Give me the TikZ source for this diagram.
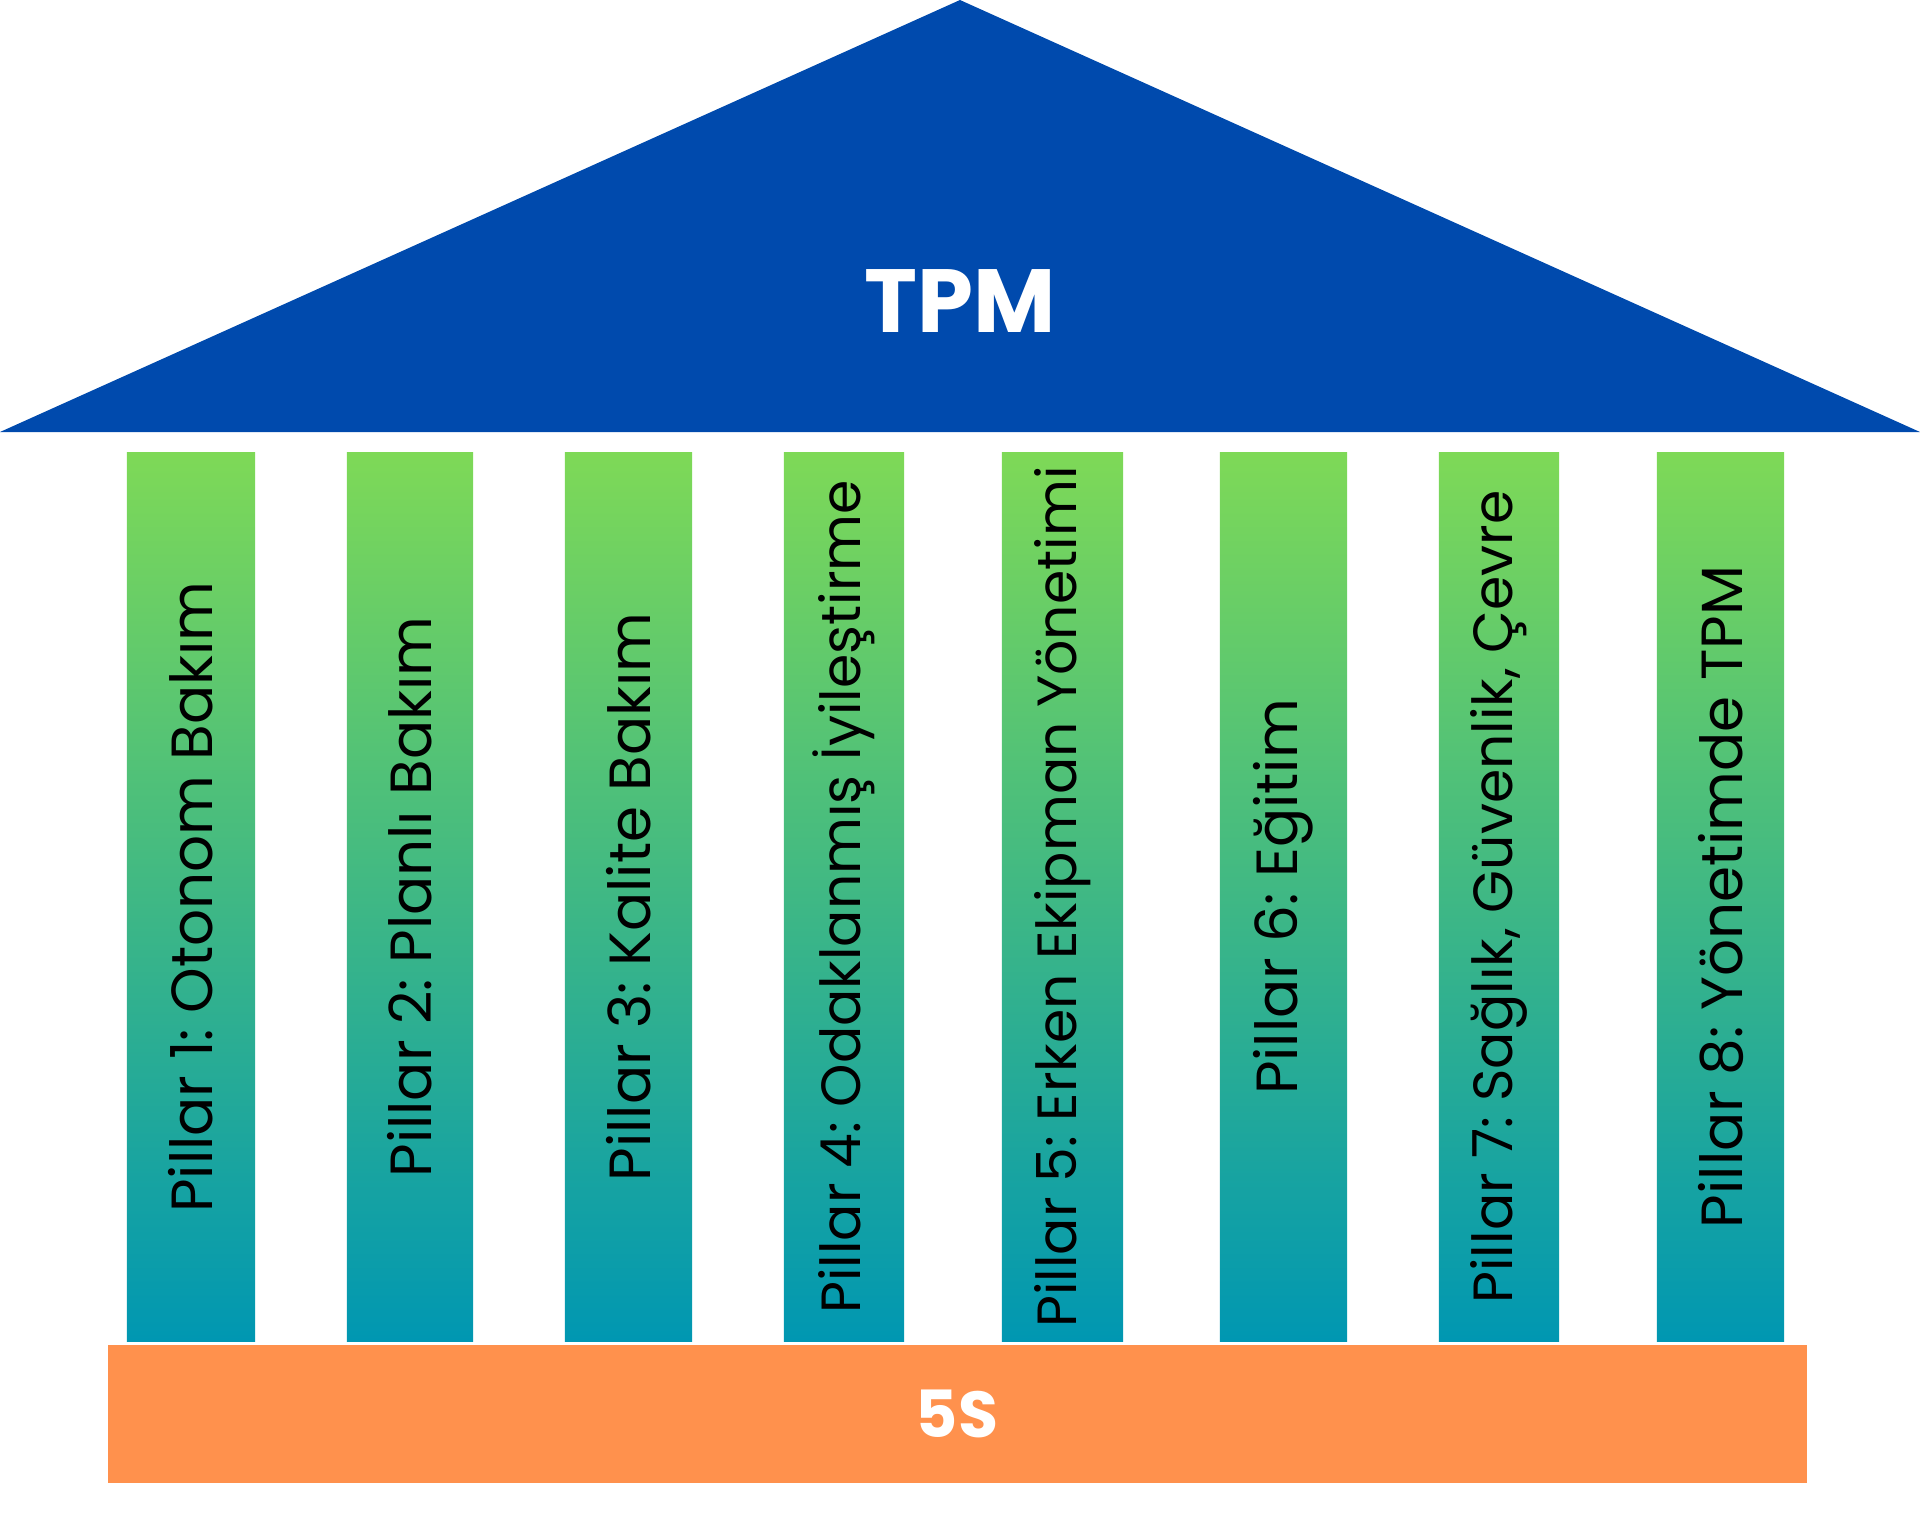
\documentclass[tikz,border=0pt]{standalone}
\usepackage{fontspec}
\setmainfont{Poppins}
\usetikzlibrary{positioning}

\definecolor{roofblue}{HTML}{004AAD}
\definecolor{pilgreen}{HTML}{7ED957}
\definecolor{pilteal}{HTML}{0097B2}
\definecolor{baseorange}{HTML}{FF914D}

\tikzset{
  pillarbox/.style={rectangle, inner sep=0pt, rotate=90,
    top color=pilgreen, bottom color=pilteal,
    minimum width=8.88cm},
  basebox/.style={rectangle, inner sep=0pt, fill=baseorange,
    minimum width=16.98cm, minimum height=1.38cm,
    text=white, font=\fontsize{18.5}{20}\bfseries},
}

\begin{document}
\begin{tikzpicture}[x=0.01cm, y=-0.01cm]
  \useasboundingbox (0,0) rectangle (1920,1536);

  %--------------------------
  % Roof
  %--------------------------
  \coordinate (roofL) at (0,432);
  \coordinate (roofT) at (960,0);
  \coordinate (roofR) at (1920,432);
  \fill[roofblue] (roofL) -- (roofT) -- (roofR) -- cycle;
  \node[text=white, font=\fontsize{25.5}{27}\bfseries] (tpm) at (960,301) {TPM};

  %--------------------------
  % Pillars
  %--------------------------
  \foreach \i/\x/\w/\fs/\txt in {
      1/191/1.28/16.5/{Pillar 1: Otonom Bakım},
      2/410/1.26/16.5/{Pillar 2: Planlı Bakım},
      3/628.5/1.27/16.5/{Pillar 3: Kalite Bakım},
      4/844/1.20/15.7/{Pillar 4: Odaklanmış İyileştirme},
      5/1062.5/1.21/15.7/{Pillar 5: Erken Ekipman Yönetimi},
      6/1283.5/1.27/16.5/{Pillar 6: Eğitim},
      7/1499/1.20/15.7/{Pillar 7: Sağlık, Güvenlik, Çevre},
      8/1720.5/1.27/16.5/{Pillar 8: Yönetimde TPM}}
    \node[pillarbox, minimum height=\w cm,
      font=\fontsize{\fs}{18}\selectfont\frenchspacing] (p\i) at (\x,897) {\txt};

  %--------------------------
  % Base
  %--------------------------
  \node[basebox] (base) at (957,1414) {5S};

\end{tikzpicture}
\end{document}
